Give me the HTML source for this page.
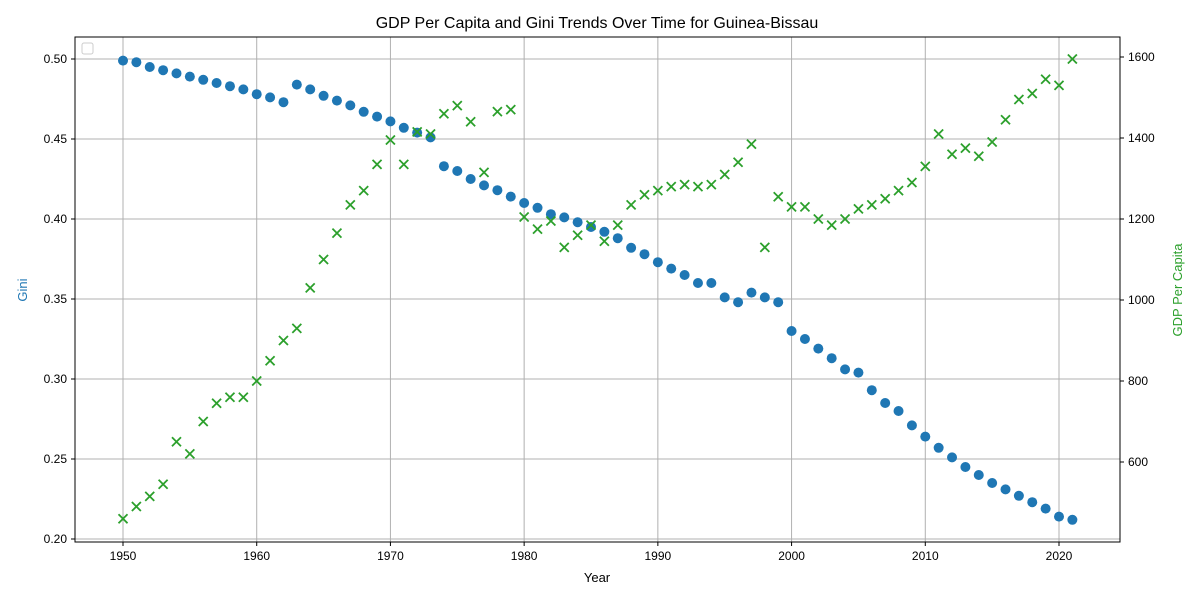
<!DOCTYPE html>
<html><head><meta charset="utf-8"><style>
body{margin:0;background:#fff}
svg text{font-family:"Liberation Sans",sans-serif}
</style></head><body>
<svg id="c" width="1200" height="600" xmlns="http://www.w3.org/2000/svg"></svg>
<script>
const years=[];for(let y=1950;y<=2021;y++)years.push(y);
const giniValues=[0.499,0.498,0.495,0.493,0.491,0.489,0.487,0.485,0.483,0.481,0.478,0.476,0.473,0.484,0.481,0.477,0.474,0.471,0.467,0.464,0.461,0.457,0.454,0.451,0.433,0.430,0.425,0.421,0.418,0.414,0.410,0.407,0.403,0.401,0.398,0.395,0.392,0.388,0.382,0.378,0.373,0.369,0.365,0.360,0.360,0.351,0.348,0.354,0.351,0.348,0.330,0.325,0.319,0.313,0.306,0.304,0.293,0.285,0.280,0.271,0.264,0.257,0.251,0.245,0.240,0.235,0.231,0.227,0.223,0.219,0.214,0.212];
const gdpValues=[460,490,515,545,650,620,700,745,760,760,800,850,900,930,1030,1100,1165,1235,1270,1335,1395,1335,1415,1410,1460,1480,1440,1315,1465,1470,1205,1175,1195,1130,1160,1185,1145,1185,1235,1260,1270,1280,1285,1280,1285,1310,1340,1385,1130,1255,1230,1230,1200,1185,1200,1225,1235,1250,1270,1290,1330,1410,1360,1375,1355,1390,1445,1495,1510,1545,1530,1595];
const xTicks=[1950,1960,1970,1980,1990,2000,2010,2020];
const giniTicks=[0.20,0.25,0.30,0.35,0.40,0.45,0.50];
const gdpTicks=[600,800,1000,1200,1400,1600];
const L=75,R=1120,T=37,B=542;
const X=v=>123+(v-1950)*936/70;
const YL=v=>539-(v-0.2)*1600;
const YR=v=>462-(v-600)*0.405;
const svg=document.getElementById('c');
const NS='http://www.w3.org/2000/svg';
function mk(tag,at,txt){const e=document.createElementNS(NS,tag);for(const k in at)e.setAttribute(k,at[k]);if(txt!==undefined)e.textContent=txt;svg.appendChild(e);return e;}
xTicks.forEach(t=>{
 const g=mk('line',{x1:X(t),x2:X(t),y1:T,y2:B,stroke:'#b0b0b0','stroke-width':1});
 
 
 mk('line',{x1:X(t),x2:X(t),y1:B,y2:B+4,stroke:'#000'});
 const l=mk('text',{x:X(t),y:B+18,'text-anchor':'middle','font-size':12},t);
 
 
});
giniTicks.forEach(t=>{
 const g=mk('line',{x1:L,x2:R,y1:YL(t),y2:YL(t),stroke:'#b0b0b0','stroke-width':1});
 
 
 mk('line',{x1:L-4,x2:L,y1:YL(t),y2:YL(t),stroke:'#000'});
 const l=mk('text',{x:L-8,y:YL(t)+4,'text-anchor':'end','font-size':12},t.toFixed(2));
 
 
});
gdpTicks.forEach(t=>{
 mk('line',{x1:R,x2:R+4,y1:YR(t),y2:YR(t),stroke:'#000'});
 const l=mk('text',{x:R+8,y:YR(t)+4,'font-size':12},t);
 
 
});
const fr=mk('rect',{x:L,y:T,width:R-L,height:B-T,fill:'none',stroke:'#000','stroke-width':1});


years.forEach((y,i)=>{
 const c=mk('circle',{cx:X(y),cy:YL(giniValues[i]),r:5,fill:'#1f77b4'});
 
 
});
years.forEach((y,i)=>{
 const x=X(y),yy=YR(gdpValues[i]),s=4.5;
 const p=mk('path',{d:`M${x-s},${yy-s}L${x+s},${yy+s}M${x-s},${yy+s}L${x+s},${yy-s}`,stroke:'#2ca02c','stroke-width':1.8,fill:'none'});
 
 
});
const lg=mk('rect',{x:82,y:43,width:11,height:11,rx:2,fill:'#fff',stroke:'#ccc'});


const tt=mk('text',{x:597,y:28,'text-anchor':'middle','font-size':16},'GDP Per Capita and Gini Trends Over Time for Guinea-Bissau');


const xt=mk('text',{x:597,y:582,'text-anchor':'middle','font-size':13},'Year');


const yt=mk('text',{x:27,y:290,'text-anchor':'middle','font-size':13,fill:'#1f77b4',transform:'rotate(-90 27 290)'},'Gini');


const y2=mk('text',{x:1182,y:290,'text-anchor':'middle','font-size':13,fill:'#2ca02c',transform:'rotate(-90 1182 290)'},'GDP Per Capita');


</script>
</body></html>
